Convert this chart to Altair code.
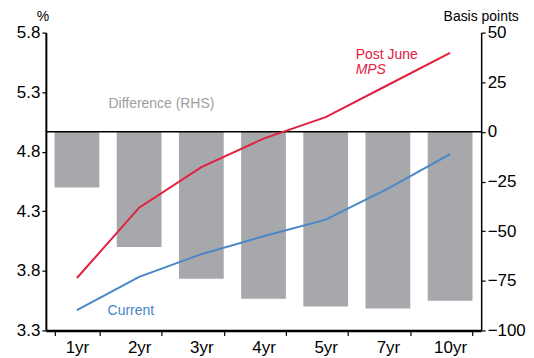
import altair as alt
import pandas as pd

tenors = ["1yr", "2yr", "3yr", "4yr", "5yr", "7yr", "10yr"]
diff_bp = [-28, -58, -74, -84, -88, -89, -85]
post_june = [3.74, 4.33, 4.67, 4.91, 5.09, 5.36, 5.63]
current = [3.47, 3.75, 3.94, 4.09, 4.23, 4.49, 4.78]
left_ticks = [3.3, 3.8, 4.3, 4.8, 5.3, 5.8]
right_ticks = [-100, -75, -50, -25, 0, 25, 50]

RED = "#e2203f"
BLUE = "#4a86c8"
GREY = "#a7a8ac"
FONT = "Liberation Sans"

W, H = 437, 299

bars_df = pd.DataFrame({"tenor": tenors, "bp": diff_bp})
lines_df = pd.DataFrame({
    "tenor": tenors * 2,
    "rate": post_june + current,
    "series": ["Post June MPS"] * len(tenors) + ["Current"] * len(tenors),
})
zero_df = pd.DataFrame({"bp": [0]})

xenc = alt.X("tenor:N", sort=tenors,
             scale=alt.Scale(paddingInner=0.28, paddingOuter=0.14),
             axis=alt.Axis(title=None, labelAngle=0, tickBand="extent",
                           domainWidth=2.5, tickSize=5, labelPadding=4))

bars = alt.Chart(bars_df).mark_bar(color=GREY).encode(
    x=xenc,
    y=alt.Y("bp:Q", scale=alt.Scale(domain=[-100, 50], nice=False, zero=False),
            axis=alt.Axis(orient="right", values=right_ticks, title=None, grid=False,
                          tickSize=4, domainWidth=1.5, labelPadding=2)),
)
zero = alt.Chart(zero_df).mark_rule(color="black", strokeWidth=1.5).encode(
    y=alt.Y("bp:Q", scale=alt.Scale(domain=[-100, 50], nice=False, zero=False))
)
bar_layer = alt.layer(bars, zero)

lines = alt.Chart(lines_df).mark_line(strokeWidth=2).encode(
    x=xenc,
    y=alt.Y("rate:Q", scale=alt.Scale(domain=[3.3, 5.8], nice=False, zero=False),
            axis=alt.Axis(orient="left", values=left_ticks, format=".1f", title=None,
                          grid=False, tickSize=4, domainWidth=2, labelPadding=2)),
    color=alt.Color("series:N", scale=alt.Scale(domain=["Post June MPS", "Current"],
                                                range=[RED, BLUE]), legend=None),
)

one = pd.DataFrame({"a": [0]})

def label(text, x, y, color, align="left", italic=False, size=14):
    return alt.Chart(one).mark_text(
        text=text, align=align, baseline="middle", font=FONT, fontSize=size,
        color=color, fontStyle="italic" if italic else "normal"
    ).encode(x=alt.value(x), y=alt.value(y))

annotations = [
    label("Difference (RHS)", 116, 72, "#9d9ea2", align="center"),
    label("Post June", 311, 23, RED),
    label("MPS", 311, 38, RED, italic=True),
    label("Current", 62, 280, BLUE),
    label("%", -3, -16, "black", align="center"),
    label("Basis points", W, -16, "black", align="center"),
]

chart = alt.layer(bar_layer, lines, *annotations).resolve_scale(y="independent").properties(
    width=W, height=H,
    autosize=alt.AutoSizeParams(type="none"),
    padding={"left": 38, "top": 24, "right": 45, "bottom": 26},
).configure_view(stroke=None).configure_axis(
    labelFont=FONT, labelFontSize=17, labelColor="black",
    domainColor="black", tickColor="black", tickWidth=1.2,
)

chart.save("out.html", embed_options={"renderer": "svg", "actions": False})
